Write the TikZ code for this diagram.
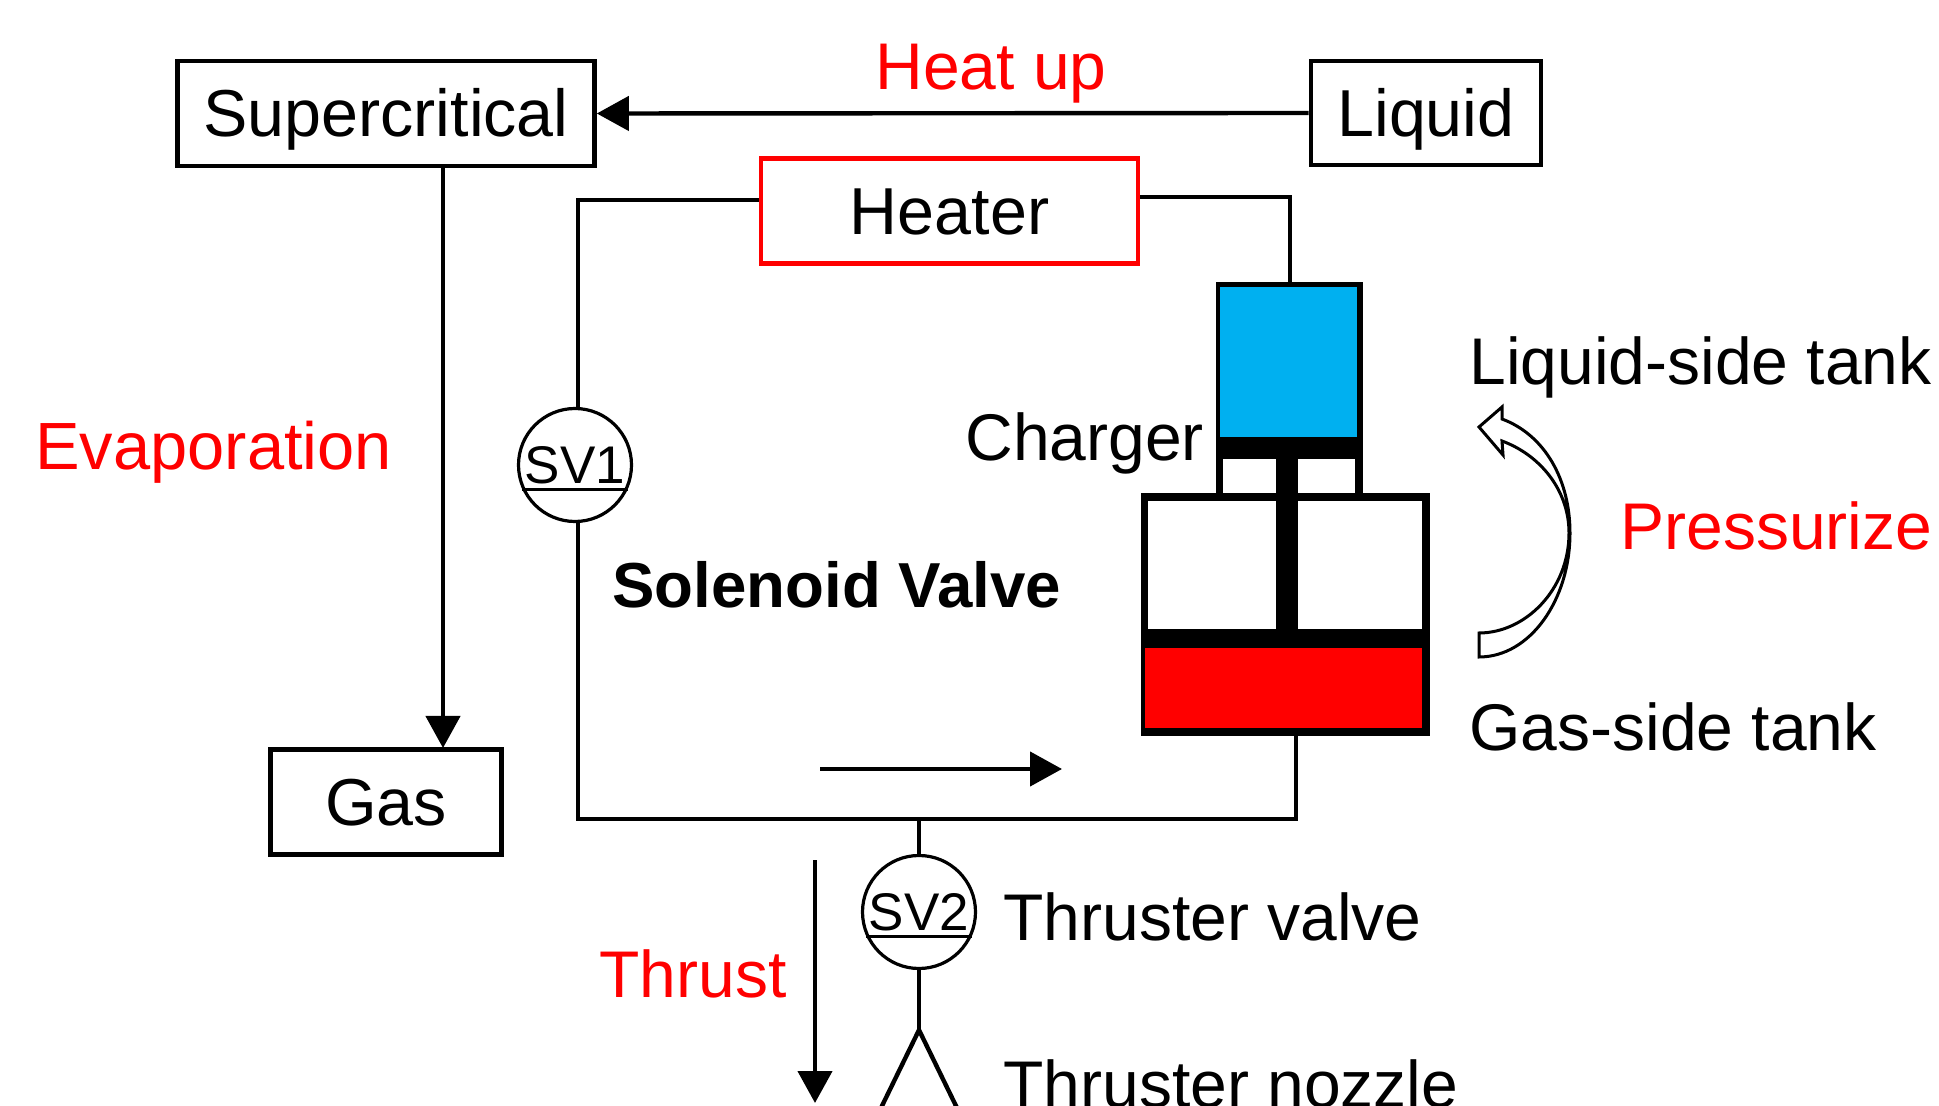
\documentclass[tikz,border=0pt]{standalone}
\usepackage{fontspec}
\setmainfont{Liberation Sans}
\usetikzlibrary{arrows.meta}
\definecolor{tankblue}{RGB}{0,176,240}
\tikzset{
  lbl/.style={anchor=base west,inner sep=0pt,font=\fontsize{33}{36}\selectfont},
  hot/.style={lbl,text=red},
  stateb/.style={draw=black,line width=2.3pt,fill=white,inner sep=0pt,text height=23.5pt,text depth=0pt,font=\fontsize{33.2}{36}\selectfont},
  valve/.style={circle,draw=black,line width=1.6pt,fill=white,inner sep=0pt,minimum size=56.5pt,text height=18.5pt,text depth=0pt,font=\fontsize{26.5}{28}\selectfont},
  pipe/.style={line width=2.2pt,line join=miter},
  flow/.style={line width=2.2pt,-{Triangle[length=16pt,width=17pt]}},
}
\begin{document}
\begin{tikzpicture}[x=0.5pt,y=-0.5pt]
\useasboundingbox (0,0) rectangle (1939,1106);
% state boxes
\node[stateb,minimum width=208.5pt,minimum height=52.5pt] (sc) at (386,113.5) {Supercritical};
\node[stateb,minimum width=115pt,minimum height=52pt] (liq) at (1426,113) {Liquid};
\node[stateb,draw=red,minimum width=188.5pt,minimum height=52.5pt] (heater) at (949.5,211) {Heater};
\node[stateb,minimum width=115.5pt,minimum height=52.5pt] (gas) at (386,802) {Gas};
% coordinates
\coordinate (evA) at (443,166);
\coordinate (evB) at (443,748);
\coordinate (tl) at (578,200);
\coordinate (tr) at (1290,197);
\coordinate (bl) at (578,819);
\coordinate (br) at (1296,819);
\coordinate (brt) at (1296,736);
\coordinate (tankTop) at (1290,284);
\coordinate (tee) at (919,819);
\coordinate (apex) at (919,1030);
\coordinate (nl) at (880,1110);
\coordinate (nr) at (958,1110);
\coordinate (flowA) at (820,769);
\coordinate (flowB) at (1062,769);
\coordinate (thA) at (815,860);
\coordinate (thB) at (815,1103);
% valves
\node[valve] (sv1) at (575,465) {SV1};
\node[valve] (sv2) at (919,912) {SV2};
\draw[line width=1.6pt] (sv1.205) -- (sv1.335);
\draw[line width=1.6pt] (sv2.205) -- (sv2.335);
% connectors
\draw[flow] (liq.west) -- (sc.east);
\draw[flow] (evA) -- (evB);
\draw[pipe] (heater.west |- tl) -- (tl) -- (tl |- sv1.north);
\draw[pipe] (tl |- sv1.south) -- (bl) -- (br) -- (brt);
\draw[pipe] (heater.east |- tr) -- (tr) -- (tankTop);
\draw[pipe] (tee) -- (sv2.north);
\draw[pipe] (sv2.south) -- (apex);
\draw[pipe] (nl) -- (apex) -- (nr);
\draw[flow] (flowA) -- (flowB);
\draw[flow] (thA) -- (thB);
% tank
\fill[black] (1216,282) rectangle (1363,500);
\fill[tankblue] (1220,287) rectangle (1357,437);
\fill[white] (1223,459) rectangle (1276,500);
\fill[white] (1298,459) rectangle (1355,500);
\fill[black] (1141,493) rectangle (1430,736);
\fill[white] (1148,501) rectangle (1276,629);
\fill[white] (1298,501) rectangle (1422,629);
\fill[red] (1145,648) rectangle (1422,728);
% curved arrow
\draw[line width=1.5pt,line join=miter,fill=white]
  (1479,427) -- (1502,407) -- (1502,419)
  .. controls (1545,435) and (1570,480) .. (1570,533)
  .. controls (1570,600) and (1530,657) .. (1479,657)
  -- (1479,633)
  .. controls (1525,633) and (1569,590) .. (1569,533)
  .. controls (1569,490) and (1540,455) .. (1502,441)
  -- (1503,455) -- cycle;
% labels
\node[hot] (heatup) at (875,90) {Heat up};
\node[hot,font=\fontsize{33.4}{36}\selectfont] (evap) at (35,470) {Evaporation};
\node[hot] (press) at (1620,550) {Pressurize};
\node[hot] (thrust) at (599,997) {Thrust};
\node[lbl] (charger) at (965,461) {Charger};
\node[lbl] (lst) at (1469,385) {Liquid-side tank};
\node[lbl] (gst) at (1469,750) {Gas-side tank};
\node[lbl] (tv) at (1003,940) {Thruster valve};
\node[lbl] (tn) at (1003,1107) {Thruster nozzle};
\node[lbl,font=\fontsize{31.8}{36}\selectfont\bfseries] (sol) at (612,608) {Solenoid Valve};
\end{tikzpicture}
\end{document}
